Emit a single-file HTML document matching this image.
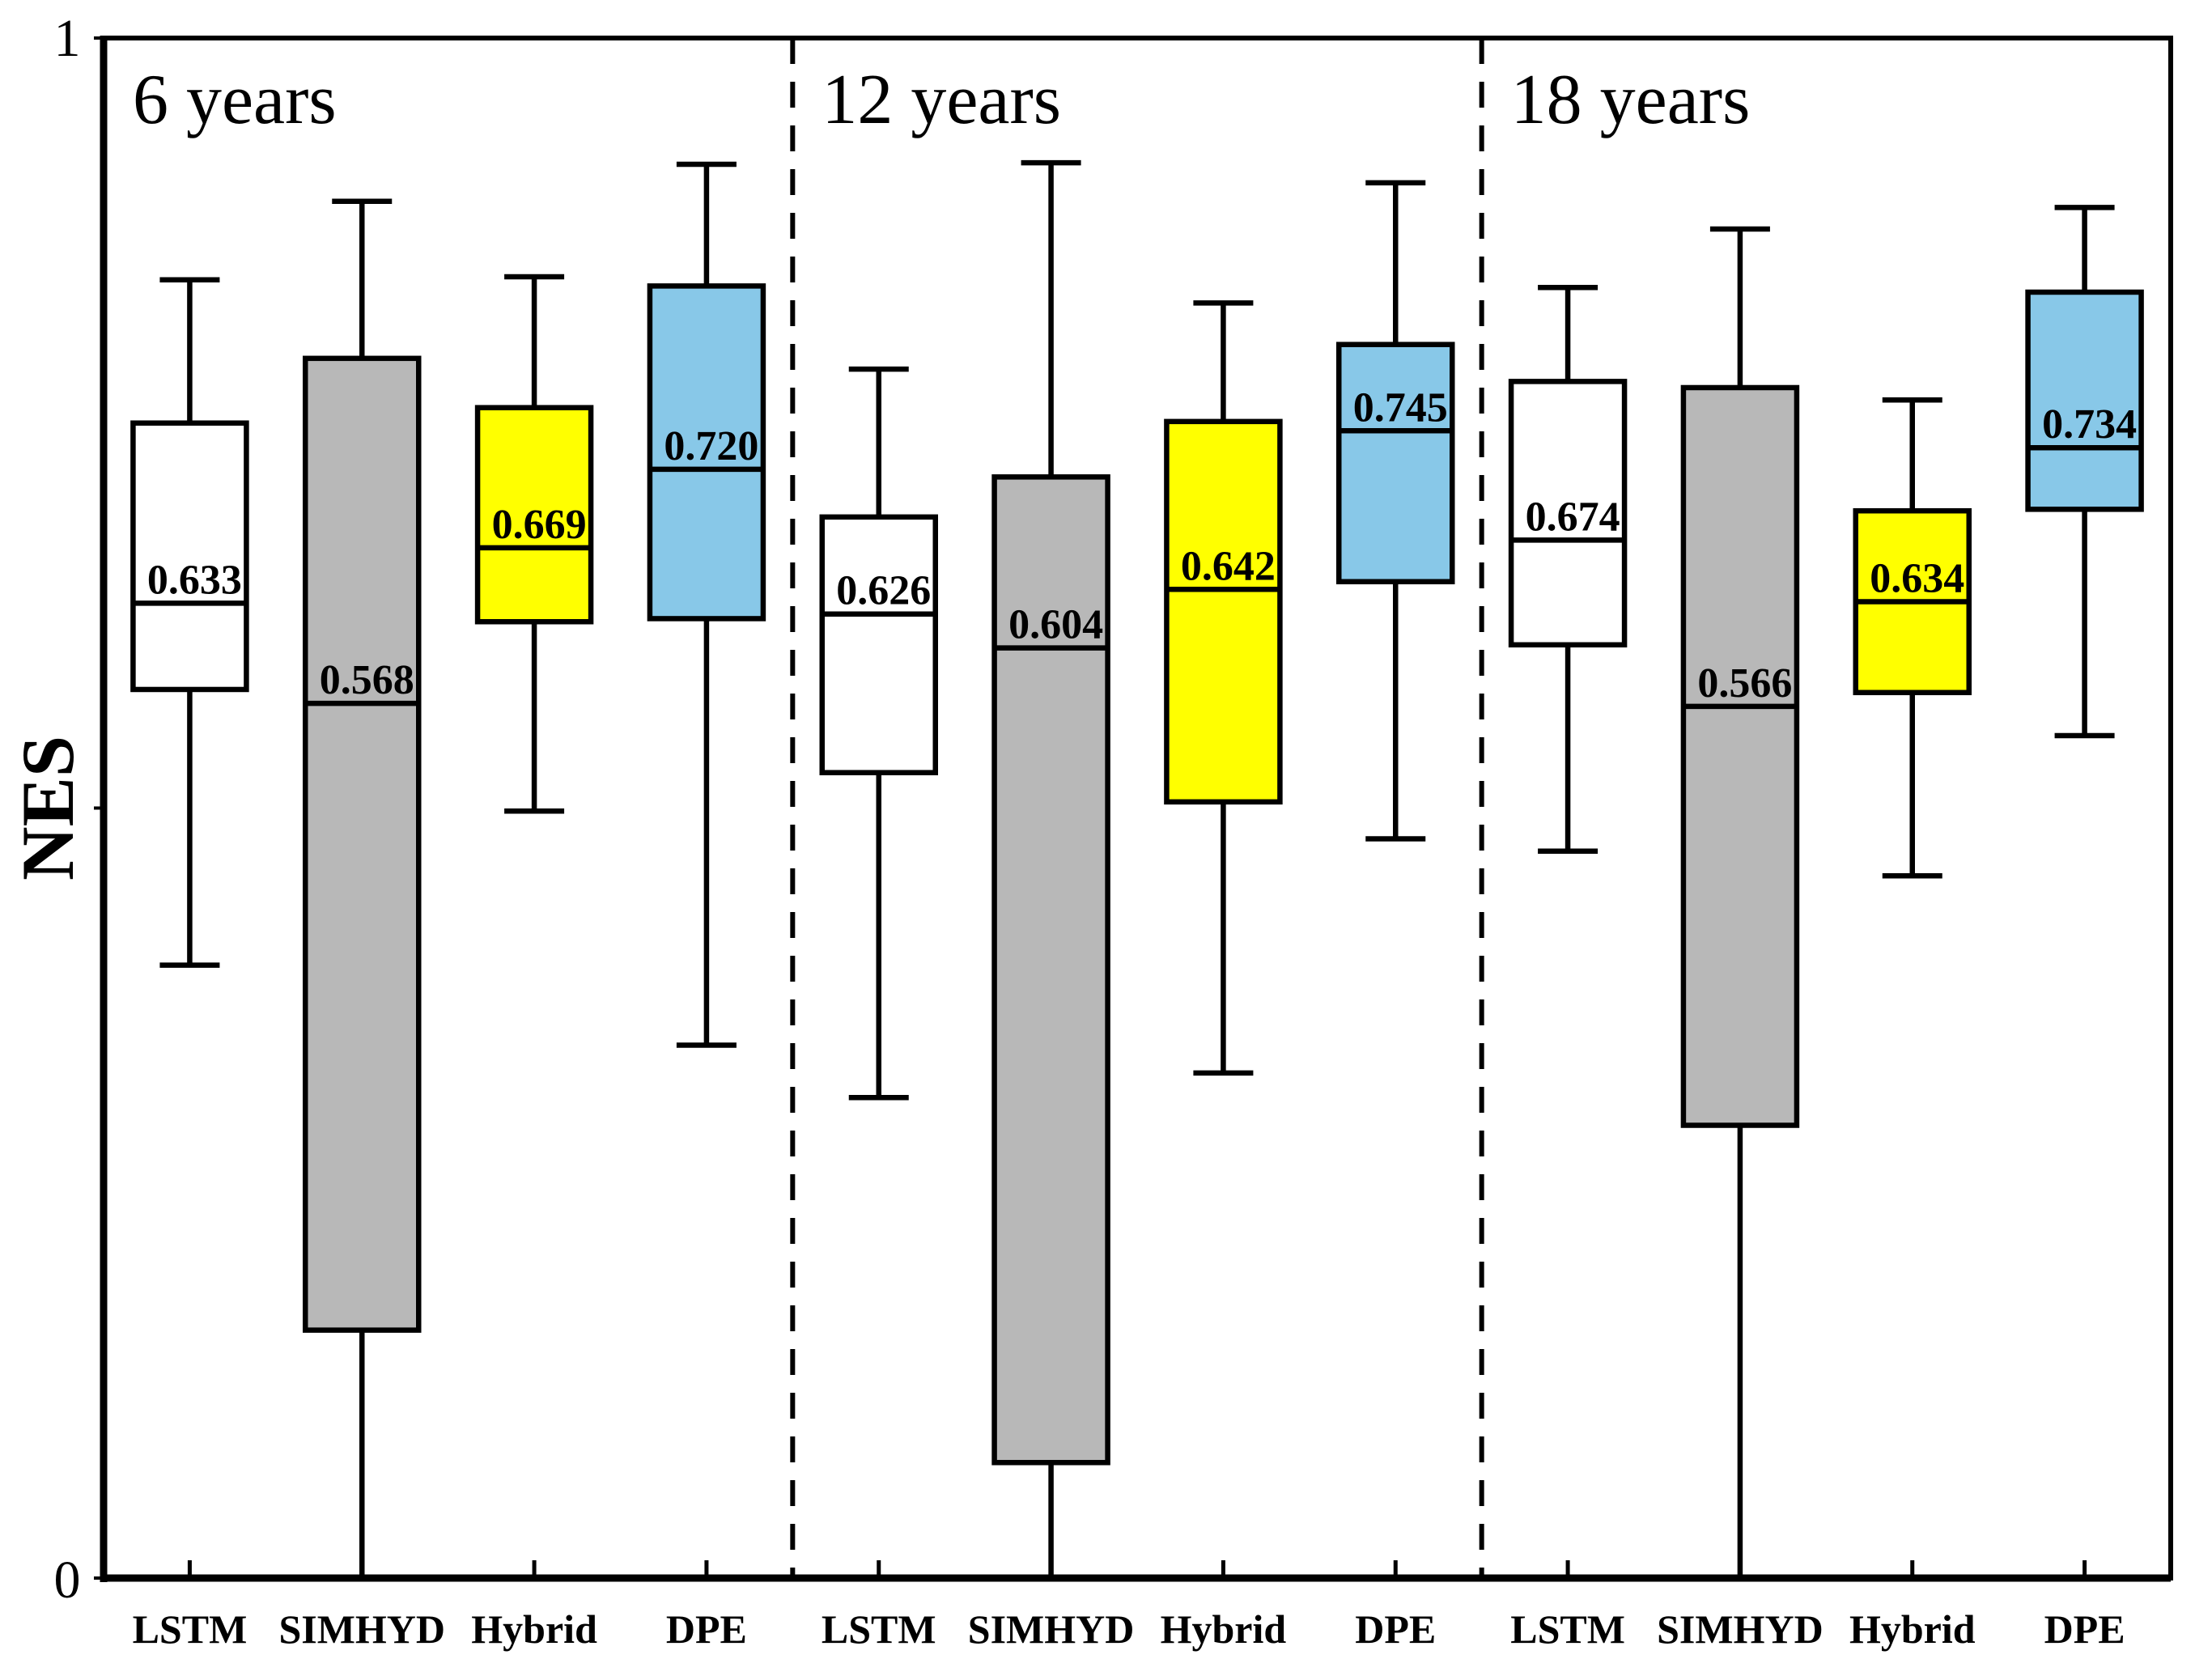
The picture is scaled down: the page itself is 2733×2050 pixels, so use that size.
<!DOCTYPE html>
<html><head><meta charset="utf-8"><style>
html,body{margin:0;padding:0;background:#fff;width:2733px;height:2050px;overflow:hidden}
svg text{font-family:"Liberation Serif",serif}
</style></head><body>
<svg id="chart" width="2733" height="2050" viewBox="0 0 2733 2050" xmlns="http://www.w3.org/2000/svg"></svg>
<script>
const groups = ["6 years","12 years","18 years"];
const models = ["LSTM","SIMHYD","Hybrid","DPE"];
const colors = ["#ffffff","#b8b8b8","#ffff00","#88c8e8"];
const whiskerHigh = [0.843,0.894,0.845,0.918, 0.785,0.919,0.828,0.906, 0.838,0.876,0.765,0.890];
const q3 = [0.750,0.792,0.760,0.839, 0.689,0.715,0.751,0.801, 0.777,0.773,0.693,0.835];
const medians = [0.633,0.568,0.669,0.720, 0.626,0.604,0.642,0.745, 0.674,0.566,0.634,0.734];
const q1 = [0.577,0.161,0.621,0.623, 0.523,0.075,0.504,0.647, 0.606,0.294,0.575,0.694];
const whiskerLow = [0.398,0.0,0.498,0.346, 0.312,0.0,0.328,0.480, 0.472,0.0,0.456,0.547];
const medianLabels = ["0.633","0.568","0.669","0.720","0.626","0.604","0.642","0.745","0.674","0.566","0.634","0.734"];
const yTicks = [0,0.5,1];
const yTickLabels = ["0","","1"];

const svg = document.getElementById('chart');
const NS = "http://www.w3.org/2000/svg";
const L=128, R=2682, T=47, B=1950;
const n = medians.length;
const slot = (R-L)/n;
const xc = i => L + (i+0.5)*slot;
const y = v => B - v*(B-T);
const bw = 140;
const SW = 6.5;
function mk(tag, attrs, parent){const e=document.createElementNS(NS,tag);for(const k in attrs)e.setAttribute(k,attrs[k]);(parent||svg).appendChild(e);return e;}

for(let g=1; g<groups.length; g++){
  const x = L + g*4*slot;
  const d = mk('line',{x1:x,x2:x,y1:T,y2:B,stroke:'#000','stroke-width':6,'stroke-dasharray':'32,22'});
  
  
}
groups.forEach((gname,g)=>{
  const t = mk('text',{x:L+g*4*slot+36,y:152,'font-size':88});
  t.textContent = gname;
  
  
});
for(let i=0;i<n;i++){
  const gEl = mk('g',{});
  
  
  const x=xc(i);
  mk('line',{x1:x,x2:x,y1:y(whiskerHigh[i]),y2:y(q3[i]),stroke:'#000','stroke-width':SW},gEl);
  mk('line',{x1:x,x2:x,y1:y(q1[i]),y2:y(whiskerLow[i]),stroke:'#000','stroke-width':SW},gEl);
  mk('line',{x1:x-37,x2:x+37,y1:y(whiskerHigh[i]),y2:y(whiskerHigh[i]),stroke:'#000','stroke-width':SW},gEl);
  if(whiskerLow[i]>0) mk('line',{x1:x-37,x2:x+37,y1:y(whiskerLow[i]),y2:y(whiskerLow[i]),stroke:'#000','stroke-width':SW},gEl);
  mk('rect',{x:x-bw/2,y:y(q3[i]),width:bw,height:y(q1[i])-y(q3[i]),fill:colors[i%4],stroke:'#000','stroke-width':SW},gEl);
  mk('line',{x1:x-bw/2,x2:x+bw/2,y1:y(medians[i]),y2:y(medians[i]),stroke:'#000','stroke-width':SW},gEl);
  const t = mk('text',{x:x+6,y:y(medians[i])-12,'font-size':52,'font-weight':'bold','text-anchor':'middle'},gEl);
  t.textContent = medianLabels[i];
  
  
  const tk = mk('line',{x1:x,x2:x,y1:B,y2:B-22,stroke:'#000','stroke-width':5});
  
  
  const lbl = mk('text',{x:x,y:2030,'font-size':50,'font-weight':'bold','text-anchor':'middle'});
  lbl.textContent = models[i%4];
  
  
}
const fr = mk('rect',{x:L,y:T,width:R-L,height:B-T,fill:'none',stroke:'#000','stroke-width':6});


mk('line',{x1:L,x2:L,y1:T-3,y2:B+5,stroke:'#000','stroke-width':9});
mk('line',{x1:L-4,x2:R,y1:B,y2:B,stroke:'#000','stroke-width':9});
yTicks.forEach((v,k)=>{
  const tk = mk('line',{x1:L-12,x2:L,y1:y(v),y2:y(v),stroke:'#000','stroke-width':4});
  
  
  if(yTickLabels[k]){
    const t = mk('text',{x:L-45,y:y(v)+(v===1?22:24),'font-size':66,'text-anchor':'middle'});
    t.textContent = yTickLabels[k];
    
    
  }
});
const yt = mk('text',{x:0,y:0,'font-size':92,'font-weight':'bold','text-anchor':'middle',transform:'translate(90,'+y(0.5)+') rotate(-90)'});
yt.textContent='NES';


</script>
</body></html>
